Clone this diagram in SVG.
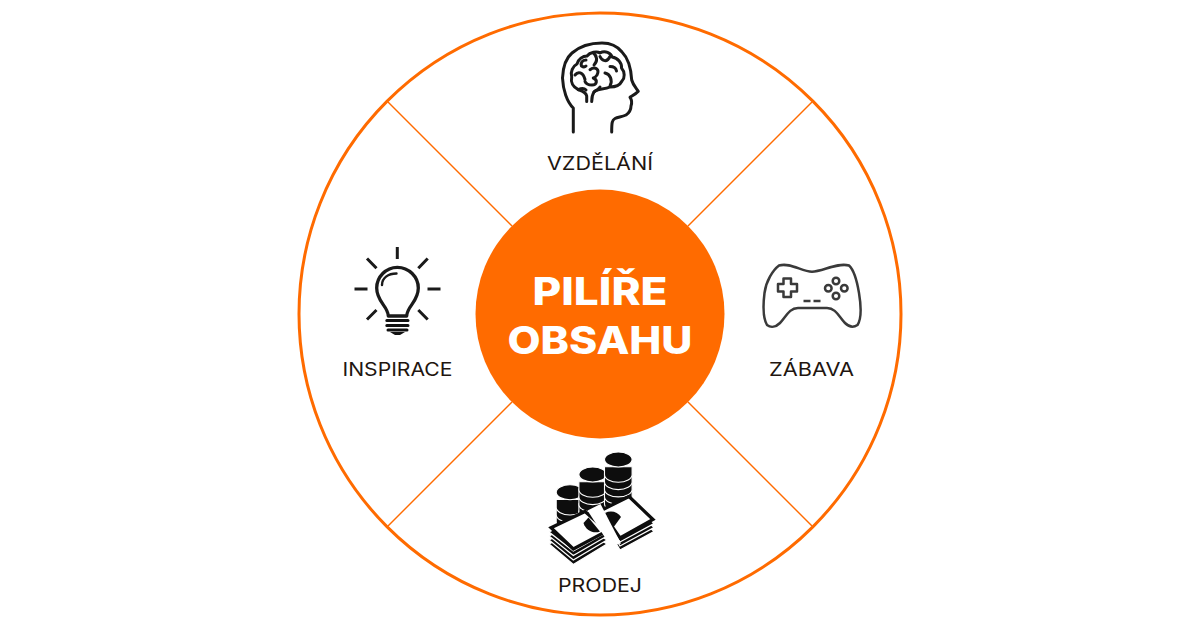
<svg xmlns="http://www.w3.org/2000/svg" width="1200" height="628" viewBox="0 0 1200 628">
<style>
.lbl{font-family:"Inter","Liberation Sans",sans-serif;font-size:18.5px;fill:#21150f;text-anchor:middle}
.ttl{font-family:"Inter","Liberation Sans",sans-serif;font-size:38px;font-weight:800;fill:#fff;text-anchor:middle}
.ic{fill:none;stroke:#1a1a1a;stroke-linecap:round;stroke-linejoin:round}
.coin{fill:#0d0d0d;stroke:#fff;stroke-width:1.100}
.bill{fill:#fff;stroke:#0d0d0d;stroke-width:3.200;stroke-linejoin:miter}
.layer{fill:#0d0d0d;stroke:#fff;stroke-width:1.300;stroke-linejoin:miter}
</style>
<defs>
<g id="stack6">
<path class="coin" d="M-13.800 44v8c0 4 6 7.500 13.800 7.500s13.800-3.500 13.800-7.500v-8z"/>
<path class="coin" d="M-13.800 36.700v8c0 4 6 7.500 13.800 7.500s13.800-3.500 13.800-7.500v-8z"/>
<path class="coin" d="M-13.800 29.400v8c0 4 6 7.500 13.800 7.500s13.800-3.500 13.800-7.500v-8z"/>
<path class="coin" d="M-13.800 22.100v8c0 4 6 7.500 13.800 7.500s13.800-3.500 13.800-7.500v-8z"/>
<path class="coin" d="M-13.800 14.800v8c0 4 6 7.500 13.800 7.500s13.800-3.500 13.800-7.500v-8z"/>
<ellipse class="coin" cx="0" cy="7.500" rx="13.800" ry="7.500"/>
</g>
</defs>
<rect width="1200" height="628" fill="#fff"/>
<g id="connectors" stroke="#ff6b00" stroke-width="1.400" fill="none">
<line x1="388" y1="102" x2="512" y2="226"/>
<line x1="812" y1="102" x2="688" y2="226"/>
<line x1="388" y1="526" x2="512" y2="402"/>
<line x1="812" y1="526" x2="688" y2="402"/>
</g>
<g id="ring"><circle cx="600" cy="314" r="301" fill="none" stroke="#ff6b00" stroke-width="3"/></g>
<g id="center">
<circle cx="600" cy="314" r="124.500" fill="#ff6b00"/>
<text class="ttl" x="600" y="305" textLength="135" lengthAdjust="spacingAndGlyphs">PILÍŘE</text>
<text class="ttl" x="600" y="354" textLength="185" lengthAdjust="spacingAndGlyphs">OBSAHU</text>
</g>
<g id="vzdelani">
<g class="ic" stroke-width="3">
<path d="M573.300 132V108C567 102 563 90 562.500 78C563 66 566 58 572 53C580 46 591 43 602 43C612 43 618 47 622 52C628 58 631 68 631.700 80C633 85 636 88 638.300 91.300C636 94 632 96 630 97.300C632 100 632 103 631 106C631 110 629 113 626 115C622 117 618 117 615 118.500C612 120 611.700 123 611.700 132"/>
<path d="M586.700 101.500V96C586 92 582 91 578.300 89.700C573 87 570.500 82 571.700 77C570 72 573 66 577 64C578 59 583 56 587 56C590 52 597 51 600 53C605 50 611 53 612 57C618 58 622 63 621.500 68C625 72 625 78 622 81C620 85 615 87 610 87C604 90 597 88 594 92C592 95 591.700 98 591.700 101.500"/>
<path d="M578.300 89.700C582 88 584 88 586 90M594 92C598 90 600 87 600 87"/>
<path d="M586 60C582 60 580.500 63 581.500 66C583 67 585 67 586 66"/>
<path d="M593.500 53C597 56 598 61 594 65"/>
<path d="M600 56.500C602 61 607 63 610 56.500"/>
<path d="M610 66.500C613 66.500 616 68 616.500 71"/>
<path d="M575 75C578 71 583 72 585 79.500"/>
<path d="M590 69.700C595 66 600 69 597 75C595 78 593 78 593.300 78C598 80 597 85 592 85C589 85 586 84 585 81.500"/>
<path d="M605 73C610 74 613 80 610 86"/>
</g>
<text class="lbl" x="600" y="169.500" textLength="106" lengthAdjust="spacingAndGlyphs">VZDĚLÁNÍ</text>
</g>
<g id="inspirace">
<g class="ic" stroke-width="3">
<path d="M397.300 247V259M367 258.500L376.500 268.300M427.700 258.500L418.300 268.300M354.500 289H367.500M427.500 289H440.500M376.500 310L367 319.500M418.300 310L427.700 319.500" stroke-linecap="butt"/>
<path d="M388.300 316C388 306 376.700 302 376.700 288C376.700 277 386 267.300 397.300 267.300C409 267.300 418.300 277 418.300 288C418.300 302 407 306 406.700 316Z" stroke-width="3.300"/>
<path d="M382 285C382 278 388 273.500 396.500 273.500" stroke-width="2.400"/>
</g>
<path d="M386.800 320.500H408M386.800 325.500H408M388 330H407" stroke="#111" stroke-width="3" stroke-linecap="round" fill="none"/>
<path d="M390 332H405L400 335H395Z" fill="#111"/>
<text class="lbl" x="397.500" y="375.500" textLength="110" lengthAdjust="spacingAndGlyphs">INSPIRACE</text>
</g>
<g id="zabava">
<g class="ic" style="stroke:#3a3a3a" stroke-width="2.500">
<path d="M779 265.500C790 262 802 271.700 812 271.700C822 271.700 838 262 849 265.500C854 270 857 281 859 293C861 305 862 318 857.500 325C853 328 849 327 845 323C839 317 836 308 827 308H798C789 308 786 317 780 323C776 327 771 328 767 325C763 318 763 305 764.500 293C766 281 773 270 779 265.500Z"/>
<path d="M783.500 278.500H791V284H797V291.500H791V297H783.500V291.500H778V284H783.500Z"/>
<circle cx="836" cy="281" r="3.300"/><circle cx="828.300" cy="288.300" r="3.300"/><circle cx="844.300" cy="288.300" r="3.300"/><circle cx="836" cy="296" r="3.300"/>
<path d="M803.500 301H810.500M813.500 301H820.500" stroke-linecap="butt"/>
</g>
<text class="lbl" x="811.500" y="375.500" textLength="85" lengthAdjust="spacingAndGlyphs">ZÁBAVA</text>
</g>
<g id="prodej">
<use href="#stack6" x="570" y="484.700"/>
<use href="#stack6" x="592.700" y="467"/>
<use href="#stack6" x="618.300" y="452"/>
<path class="layer" d="M603 521L629 508L654 531.500L620 550Z"/>
<path class="layer" d="M603 517L629 504L654 527.500L620 546Z"/>
<path class="layer" d="M603 513L629 500L654 523.500L620 542Z"/>
<path class="bill" d="M601 510.500L629 496.500L653 519.500L620 538Z"/>
<path d="M605 513C611 510 618 512 621 517L613 528Z" fill="#0d0d0d"/>
<path class="layer" d="M549 544L581 528L607 544L573.300 564.500Z"/>
<path class="layer" d="M549 540L581 524L607 540L573.300 560Z"/>
<path class="layer" d="M549 536L581 520L607 536L573.300 555.500Z"/>
<path class="layer" d="M549 532L581 516L607 532L573.300 551Z"/>
<path class="bill" d="M551 527.700L585 511.500L607 531L573.300 549Z"/>
<path d="M583.500 523L588.500 517.500L600 531.500C594 534 586 531 583.500 523Z" fill="#0d0d0d"/>
<path d="M587.500 510.500L600.500 504L621 543.500L610.500 546Z" fill="#fff"/>
</g>
<g id="prodej-label"><text class="lbl" x="600" y="592" textLength="84" lengthAdjust="spacingAndGlyphs">PRODEJ</text></g>
</svg>
